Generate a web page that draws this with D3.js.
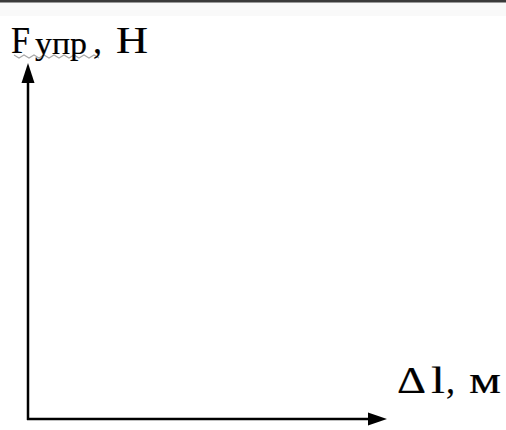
<!DOCTYPE html>
<html>
<head>
<meta charset="utf-8">
<script src="https://cdn.jsdelivr.net/npm/d3@7"></script>
<style>
  html, body { margin: 0; padding: 0; background: #fff; }
  svg { display: block; }
</style>
</head>
<body>
<svg id="chart" width="506" height="430"></svg>
<script>
// Empty coordinate axes: no data series, only the axis domains and labels.
const xDomain = [0, 1];
const yDomain = [0, 1];
const xTickLabels = [];
const yTickLabels = [];
const seriesValues = [];
const yLabelParts = ["F", "упр", ",", "Н"];
const xLabelParts = ["Δ", "l", ",", "м"];

const W = 506, H = 430;
const svg = d3.select("#chart");
const FONT = "Liberation Serif, Times New Roman, serif";

// top border
svg.append("rect").attr("x", 0).attr("y", 2).attr("width", W).attr("height", 14).attr("fill", "#f9f9f9");
svg.append("rect").attr("x", 0).attr("y", 0).attr("width", W).attr("height", 2.5).attr("fill", "#3a3a3a");

const x = d3.scaleLinear().domain(xDomain).range([28, 387]);
const y = d3.scaleLinear().domain(yDomain).range([419, 63]);

const ax = svg.append("g").attr("stroke", "#000").attr("fill", "#000");
const x0 = x(xDomain[0]), y0 = y(yDomain[0]);
const yt = y(yDomain[1]), xt = x(xDomain[1]);

// y axis line
ax.append("line")
  .attr("x1", x0).attr("x2", x0)
  .attr("y1", y0 + 1).attr("y2", yt + 10)
  .attr("stroke-width", 2.5);
// x axis line
ax.append("line")
  .attr("x1", x0 - 1).attr("x2", xt - 10)
  .attr("y1", y0).attr("y2", y0)
  .attr("stroke-width", 2.5);

// arrowheads
ax.append("path")
  .attr("d", `M${x0},${yt} L${x0 - 6.5},${yt + 20} L${x0 + 6.5},${yt + 20} Z`)
  .attr("stroke", "none");
ax.append("path")
  .attr("d", `M${xt},${y0} L${xt - 19},${y0 - 6.5} L${xt - 19},${y0 + 6.5} Z`)
  .attr("stroke", "none");

// spell-check squiggle under y label
const sq = d3.range(0, 18).map(i => [14 + i * 5, 55 + (i % 2 ? 3 : 0)]);
svg.append("path")
  .attr("d", d3.line()(sq))
  .attr("fill", "none").attr("stroke", "#a8a8a8").attr("stroke-width", 1.1);

// y label glyphs
const yPos = [
  {x: 11, y: 53, size: 38, len: 19},
  {x: 35, y: 54, size: 32, len: 52},
  {x: 93, y: 53, size: 38, len: 9},
  {x: 116, y: 53, size: 38, len: 32}
];
yLabelParts.forEach((t, i) => {
  svg.append("text")
    .attr("x", yPos[i].x).attr("y", yPos[i].y)
    .attr("font-family", FONT).attr("font-size", yPos[i].size)
    .attr("fill", "#000").attr("stroke", "#000").attr("stroke-width", 0.2)
    .attr("textLength", yPos[i].len).attr("lengthAdjust", "spacingAndGlyphs")
    .text(t);
});

// x label glyphs
const xPos = [
  {x: 397, y: 393, size: 38, len: 29},
  {x: 431, y: 393, size: 38, len: 14},
  {x: 446, y: 393, size: 38, len: 9},
  {x: 469, y: 393, size: 38, len: 32}
];
xLabelParts.forEach((t, i) => {
  svg.append("text")
    .attr("x", xPos[i].x).attr("y", xPos[i].y)
    .attr("font-family", FONT).attr("font-size", xPos[i].size)
    .attr("fill", "#000").attr("stroke", "#000").attr("stroke-width", 0.2)
    .attr("textLength", xPos[i].len).attr("lengthAdjust", "spacingAndGlyphs")
    .text(t);
});
</script>
</body>
</html>
